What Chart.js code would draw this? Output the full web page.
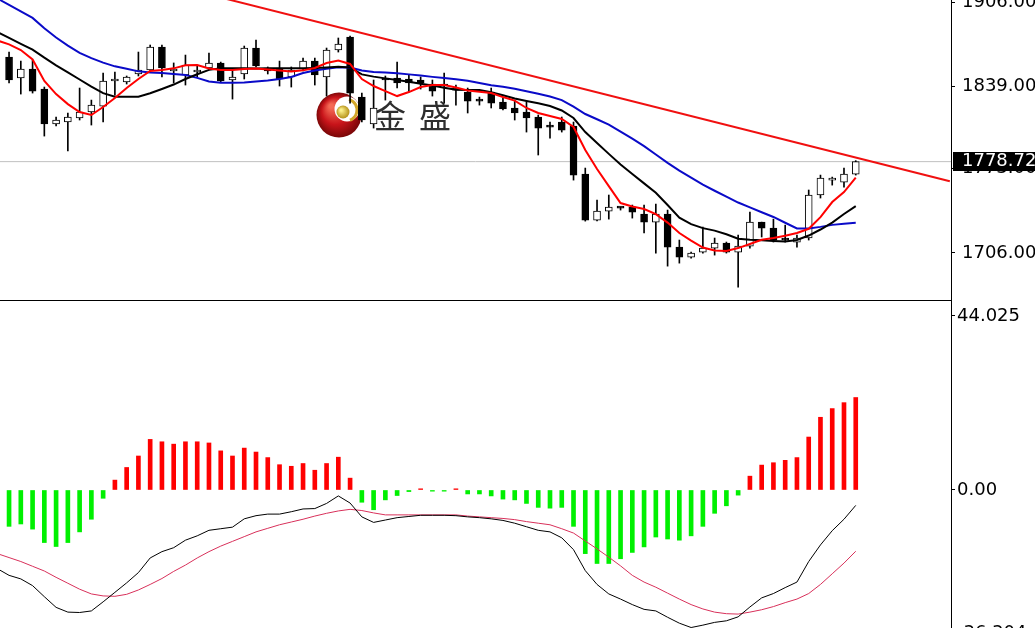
<!DOCTYPE html>
<html lang="zh">
<head>
<meta charset="UTF-8">
<title>XAUUSD H4 MACD</title>
<style>
  html, body { margin: 0; padding: 0; background: #fff; overflow: hidden; }
  #priceBox { position: absolute; left: 0; top: 0; width: 1035px; height: 301px; }
  #macdBox { position: absolute; left: 0; top: 301px; width: 1035px; height: 327px; }
</style>
</head>
<body>
<div id="priceBox"><canvas id="priceChart" width="1035" height="301"></canvas></div>
<div id="macdBox"><canvas id="macdChart" width="1035" height="327"></canvas></div>

<script src="https://cdn.jsdelivr.net/npm/chart.js@4"></script>
<script>
// candles, bar 0 .. 72
const open = [1862.1, 1845.4, 1852.6, 1836.6, 1808.7, 1810.3, 1813.5, 1818.3, 1823.0, 1843.0,
  1842.2, 1848.6, 1851.8, 1870.1, 1851.0, 1847.8, 1850.2, 1853.4, 1857.4, 1843.8,
  1848.6, 1869.3, 1853.4, 1853.4, 1846.2, 1852.6, 1858.9, 1846.2, 1867.7, 1878.1,
  1830.2, 1808.7, 1845.4, 1845.4, 1844.6, 1843.8, 1840.6, 1839.8, 1837.4, 1834.2,
  1827.8, 1834.2, 1826.2, 1821.5, 1818.3, 1814.3, 1807.1, 1810.3, 1807.1, 1768.8,
  1732.1, 1739.3, 1742.1, 1742.5, 1736.9, 1730.5, 1736.9, 1710.6, 1702.6, 1706.6,
  1709.8, 1713.8, 1706.6, 1711.4, 1730.5, 1725.7, 1716.6, 1714.6, 1717.8, 1752.1,
  1764.0, 1762.4, 1768.8];
const high = [1866.1, 1858.9, 1859.7, 1838.2, 1814.3, 1817.5, 1837.4, 1827.8, 1849.4, 1850.2,
  1847.0, 1866.1, 1871.7, 1871.7, 1857.4, 1863.7, 1855.0, 1865.3, 1858.1, 1851.8,
  1870.9, 1875.7, 1854.2, 1858.9, 1854.2, 1861.3, 1861.3, 1869.3, 1877.3, 1878.9,
  1833.4, 1843.8, 1847.0, 1858.1, 1847.8, 1846.2, 1843.8, 1849.4, 1839.8, 1837.4,
  1830.2, 1837.4, 1829.4, 1827.8, 1826.2, 1815.9, 1810.3, 1814.3, 1810.3, 1773.6,
  1748.1, 1752.1, 1742.5, 1744.1, 1744.1, 1744.9, 1740.1, 1716.2, 1706.6, 1726.5,
  1717.8, 1714.6, 1720.2, 1738.5, 1730.5, 1732.9, 1728.1, 1720.2, 1756.1, 1768.0,
  1766.4, 1773.6, 1779.5];
const low = [1841.4, 1832.6, 1833.4, 1799.1, 1807.1, 1787.2, 1811.9, 1807.9, 1810.3, 1831.8,
  1840.6, 1847.0, 1850.8, 1846.2, 1841.4, 1839.8, 1846.2, 1851.8, 1842.2, 1828.6,
  1844.6, 1854.2, 1848.6, 1839.0, 1838.2, 1851.0, 1839.8, 1831.0, 1866.1, 1825.4,
  1810.3, 1805.5, 1827.8, 1837.4, 1834.2, 1836.6, 1831.0, 1825.4, 1823.8, 1817.5,
  1823.8, 1821.5, 1819.9, 1811.9, 1802.3, 1784.0, 1797.5, 1802.3, 1764.0, 1731.3,
  1731.5, 1732.9, 1740.1, 1733.7, 1721.8, 1705.8, 1695.4, 1697.8, 1701.8, 1705.8,
  1704.2, 1705.8, 1678.7, 1709.8, 1718.6, 1714.6, 1714.6, 1710.6, 1716.2, 1749.7,
  1760.0, 1758.4, 1768.0];
const close = [1843.8, 1852.6, 1835.0, 1808.7, 1811.9, 1814.3, 1818.3, 1823.8, 1843.0, 1843.4,
  1846.2, 1851.8, 1870.1, 1853.4, 1851.8, 1855.8, 1851.0, 1857.4, 1843.0, 1846.2,
  1869.3, 1855.0, 1851.0, 1844.6, 1851.8, 1858.9, 1847.8, 1867.7, 1872.5, 1833.4,
  1811.9, 1821.5, 1843.8, 1841.4, 1841.4, 1841.4, 1835.0, 1839.0, 1835.8, 1827.0,
  1827.0, 1825.4, 1820.7, 1817.5, 1813.5, 1805.5, 1806.3, 1803.9, 1768.0, 1732.1,
  1739.3, 1742.5, 1741.7, 1738.5, 1730.5, 1736.9, 1710.6, 1702.6, 1705.8, 1709.8,
  1713.8, 1706.6, 1711.4, 1730.5, 1725.7, 1716.2, 1716.2, 1717.8, 1752.1, 1765.6,
  1764.4, 1768.8, 1778.72];

// moving averages, bar -1 .. 72
const lineStart = -1;
const maFast = [1875.3, 1872.2, 1867.7, 1860.2, 1843.0, 1832.6, 1824.6, 1818.3, 1815.9, 1822.3,
  1829.4, 1837.4, 1844.6, 1851.0, 1851.8, 1853.1, 1855.5, 1855.8, 1853.0, 1851.8,
  1851.8, 1852.6, 1853.0, 1852.2, 1851.4, 1850.6, 1851.5, 1853.4, 1857.4, 1859.3,
  1856.6, 1844.6, 1839.0, 1835.0, 1831.0, 1834.2, 1838.2, 1839.8, 1839.8, 1837.8,
  1835.4, 1834.5, 1833.4, 1830.2, 1827.4, 1821.5, 1817.5, 1815.1, 1812.7, 1806.3,
  1788.0, 1772.8, 1759.2, 1745.7, 1742.9, 1740.9, 1736.9, 1730.1, 1721.8, 1715.8,
  1710.2, 1707.8, 1707.4, 1709.8, 1713.0, 1716.4, 1717.8, 1719.6, 1721.8, 1725.2,
  1734.5, 1746.5, 1754.5, 1766.0];
const maMid = [1882.1, 1877.4, 1872.7, 1868.0, 1861.6, 1855.5, 1849.9, 1844.2, 1838.6, 1833.3,
  1830.5, 1830.5, 1830.5, 1833.2, 1836.6, 1840.2, 1844.6, 1848.4, 1851.9, 1853.1,
  1853.2, 1853.1, 1853.0, 1853.1, 1853.2, 1853.1, 1853.2, 1853.4, 1853.8, 1854.4,
  1853.8, 1848.3, 1846.5, 1845.1, 1843.8, 1842.4, 1840.9, 1839.5, 1837.7, 1836.0,
  1835.8, 1835.8, 1834.1, 1831.7, 1829.0, 1827.1, 1825.2, 1823.1, 1819.5, 1813.5,
  1802.3, 1793.5, 1784.9, 1776.4, 1768.8, 1761.4, 1753.9, 1744.1, 1734.0, 1728.9,
  1725.7, 1723.7, 1720.8, 1717.3, 1716.4, 1716.1, 1715.5, 1715.1, 1716.2, 1719.8,
  1724.6, 1730.1, 1737.0, 1743.3];
const maSlow = [1908.8, 1903.7, 1898.5, 1893.3, 1885.1, 1877.7, 1871.2, 1865.5, 1861.2, 1857.7,
  1854.7, 1852.8, 1850.7, 1849.8, 1849.4, 1848.6, 1847.8, 1845.5, 1842.6, 1841.6,
  1841.6, 1841.9, 1842.6, 1843.4, 1844.6, 1846.2, 1849.4, 1851.4, 1852.8, 1853.9,
  1853.8, 1851.4, 1850.2, 1849.8, 1849.1, 1848.3, 1847.4, 1846.3, 1845.4, 1844.4,
  1843.2, 1841.4, 1839.7, 1838.4, 1836.9, 1834.9, 1832.9, 1830.6, 1827.8, 1822.5,
  1816.7, 1812.5, 1808.2, 1802.6, 1797.0, 1791.1, 1784.4, 1777.7, 1771.6, 1766.0,
  1760.4, 1755.5, 1750.8, 1746.1, 1742.2, 1738.4, 1734.6, 1730.0, 1725.5, 1725.5,
  1726.7, 1728.3, 1729.1, 1730.0];

// drawn trend line: bar and price at both ends
const trendBars = [18, 80];
const trendPrices = [1909.6, 1763.1];
const lastPrice = 1778.72;
const priceTicks = [1906, 1839, 1773, 1706];

// MACD panel
const macdHist = [-9.2, -8.6, -9.9, -13.3, -14.3, -13.3, -10.6, -7.4, -2.1, 2.5,
  5.7, 8.6, 12.8, 12.2, 11.6, 12.2, 12.2, 11.9, 9.9, 8.6,
  10.6, 9.6, 8.2, 6.4, 6.0, 6.7, 5.0, 6.7, 8.3, 3.0,
  -3.1, -5.0, -2.5, -1.4, -0.4, 0.3, -0.3, -0.3, 0.3, -1.0,
  -1.0, -1.5, -2.3, -2.5, -3.4, -4.4, -4.6, -4.4, -9.2, -16.1,
  -18.6, -18.6, -17.4, -15.8, -14.4, -11.9, -12.4, -12.7, -11.6, -9.2,
  -5.9, -4.0, -1.3, 3.5, 6.3, 6.9, 7.5, 8.2, 13.4, 18.4,
  20.6, 22.1, 23.4];
const macdLine = [-19.9, -21.6, -22.5, -24.2, -27.0, -29.7, -30.9, -31.0, -30.6, -28.3,
  -25.9, -23.5, -20.9, -17.2, -15.6, -14.6, -12.7, -11.6, -10.2, -9.8,
  -9.4, -7.3, -6.5, -6.1, -6.1, -5.5, -4.8, -4.7, -3.4, -1.5,
  -3.3, -6.8, -8.2, -7.6, -7.0, -6.7, -6.4, -6.4, -6.4, -6.5,
  -6.8, -7.0, -7.3, -7.7, -8.4, -9.3, -10.2, -10.6, -12.1, -15.1,
  -20.4, -23.9, -26.3, -27.6, -29.0, -30.2, -30.6, -32.2, -33.7, -34.8,
  -34.2, -33.5, -33.1, -32.1, -29.6, -27.3, -26.2, -24.7, -23.3, -18.1,
  -13.9, -10.3, -7.4, -3.9];
const signalLine = [-16.1, -17.1, -18.1, -19.3, -20.5, -22.1, -23.6, -25.1, -26.3, -26.8,
  -26.9, -26.4, -25.3, -23.9, -22.4, -20.6, -19.0, -17.2, -15.6, -14.2,
  -13.0, -11.8, -10.6, -9.7, -8.8, -8.1, -7.4, -6.6, -5.9, -5.3,
  -4.9, -5.2, -5.8, -6.3, -6.3, -6.3, -6.3, -6.3, -6.3, -6.3,
  -6.6, -6.8, -7.0, -7.2, -7.5, -8.0, -8.4, -8.8, -9.8, -10.9,
  -12.9, -14.9, -17.0, -19.2, -21.6, -23.3, -24.6, -26.1, -27.6, -29.0,
  -30.1, -30.9, -31.3, -31.4, -30.9, -30.3, -29.5, -28.5, -27.6, -26.2,
  -23.9, -21.2, -18.5, -15.5];
const macdTicks = [44.025, 0, -36.304];

Chart.defaults.font.family = '"DejaVu Sans", Verdana, sans-serif';
Chart.defaults.font.size = 18;
Chart.defaults.color = '#000';

const xRange = { type: 'linear', min: -0.77, max: 80.1, display: false, offset: false };
const axisWidth = 84;

const toPoints = (arr, start) => arr.map((v, i) => ({ x: i + start, y: v }));

// right axis: fixed width, no extra room for half labels at the ends
function fixAxis(s) {
  s.width = axisWidth;
  s.paddingTop = 0;
  s.paddingBottom = 0;
  s.paddingLeft = 0;
  s.paddingRight = 0;
}

// bottom edge of the price window
const frameLine = {
  id: 'frameLine',
  afterDraw(chart) {
    const { ctx, chartArea } = chart;
    ctx.save();
    ctx.strokeStyle = '#000';
    ctx.lineWidth = 1;
    ctx.beginPath();
    ctx.moveTo(0, chartArea.bottom - 0.5);
    ctx.lineTo(chartArea.right + 1, chartArea.bottom - 0.5);
    ctx.stroke();
    ctx.restore();
  }
};

// 金盛 watermark
const logoMark = {
  id: 'logoMark',
  beforeDatasetsDraw(chart) {
    const c = chart.ctx;
    c.save();
    const ball = c.createRadialGradient(331, 106, 2, 339, 115, 23);
    ball.addColorStop(0, '#f46a55');
    ball.addColorStop(0.55, '#c8141a');
    ball.addColorStop(1, '#760606');
    c.fillStyle = ball;
    c.beginPath();
    c.arc(339, 115, 22.5, 0, Math.PI * 2);
    c.fill();
    c.fillStyle = '#fff';
    c.beginPath();
    c.arc(347, 109, 12.5, 0, Math.PI * 2);
    c.fill();
    c.strokeStyle = '#d2a62a';
    c.lineWidth = 3;
    c.beginPath();
    c.arc(346, 110, 11, -1.3, 1.2);
    c.stroke();
    const gold = c.createRadialGradient(341, 110, 1, 343, 112, 7);
    gold.addColorStop(0, '#fbf08a');
    gold.addColorStop(1, '#b08a10');
    c.fillStyle = gold;
    c.beginPath();
    c.arc(343, 112, 6.5, 0, Math.PI * 2);
    c.fill();
    c.fillStyle = '#2e2e2e';
    c.font = '32px "Noto Sans CJK SC"';
    c.textBaseline = 'alphabetic';
    c.fillText('金', 374, 128);
    c.fillText('盛', 419, 128);
    c.restore();
  }
};

// last price tag on the price axis
const priceTag = {
  id: 'priceTag',
  afterDraw(chart) {
    const c = chart.ctx;
    const y = chart.scales.y.getPixelForValue(lastPrice);
    const x = chart.chartArea.right + 2;
    c.save();
    c.fillStyle = '#000';
    c.fillRect(x, Math.round(y) - 10, 1035 - x, 19);
    c.fillStyle = '#fff';
    c.font = '18px "DejaVu Sans"';
    c.textBaseline = 'middle';
    c.fillText(lastPrice.toFixed(2), 962, y);
    c.restore();
  }
};

const wickData = open.map((o, i) => ({ x: i, y: [low[i], high[i]] }));
const bodyData = open.map((o, i) => ({ x: i, y: [o, close[i]] }));
const bodyFill = open.map((o, i) => close[i] < o ? '#000' : '#fff');

new Chart(document.getElementById('priceChart'), {
  type: 'bar',
  data: {
    datasets: [
      { type: 'line', data: trendBars.map((b, i) => ({ x: b, y: trendPrices[i] })),
        borderColor: '#f01010', borderWidth: 2, pointRadius: 0, order: 0 },
      { type: 'line', data: toPoints(maFast, lineStart), borderColor: '#ff0000', borderWidth: 2,
        pointRadius: 0, tension: 0, order: 1 },
      { type: 'line', data: toPoints(maMid, lineStart), borderColor: '#000000', borderWidth: 2,
        pointRadius: 0, tension: 0, order: 2 },
      { type: 'line', data: toPoints(maSlow, lineStart), borderColor: '#0a0ac8', borderWidth: 2,
        pointRadius: 0, tension: 0, order: 3 },
      { data: bodyData, backgroundColor: bodyFill, borderColor: '#000', borderWidth: 1,
        borderSkipped: false, barThickness: 7, minBarLength: 2, grouped: false, order: 4 },
      { data: wickData, backgroundColor: '#000', borderWidth: 0, barThickness: 1,
        grouped: false, order: 5 },
      { type: 'line', data: [{ x: -1, y: lastPrice }, { x: 81, y: lastPrice }],
        borderColor: '#c0c0c0', borderWidth: 1, pointRadius: 0, order: 6 }
    ]
  },
  options: {
    responsive: false,
    animation: false,
    events: [],
    layout: { padding: 0, autoPadding: false },
    plugins: { legend: { display: false }, tooltip: { enabled: false } },
    scales: {
      x: xRange,
      y: {
        position: 'right',
        min: 1667.6,
        max: 1907.6,
        afterFit: fixAxis,
        afterBuildTicks: s => { s.ticks = priceTicks.map(v => ({ value: v })); },
        ticks: { callback: v => v.toFixed(2), padding: 7, autoSkip: false },
        grid: { drawOnChartArea: false, tickLength: 4, color: '#000' },
        border: { display: true, color: '#000', width: 1 }
      }
    }
  },
  plugins: [logoMark, frameLine, priceTag]
});

new Chart(document.getElementById('macdChart'), {
  type: 'bar',
  data: {
    datasets: [
      { type: 'line', data: toPoints(macdLine, lineStart), borderColor: '#000', borderWidth: 1,
        pointRadius: 0, tension: 0, order: 0 },
      { type: 'line', data: toPoints(signalLine, lineStart), borderColor: '#d8305a', borderWidth: 1,
        pointRadius: 0, tension: 0, order: 1 },
      { data: toPoints(macdHist, 0), backgroundColor: macdHist.map(v => v < 0 ? '#00f000' : '#ff0000'),
        borderWidth: 0, barThickness: 4, grouped: false, order: 2 }
    ]
  },
  options: {
    responsive: false,
    animation: false,
    events: [],
    layout: { padding: 0, autoPadding: false },
    plugins: { legend: { display: false }, tooltip: { enabled: false } },
    scales: {
      x: xRange,
      y: {
        position: 'right',
        min: -34.92,
        max: 47.82,
        afterFit: fixAxis,
        afterBuildTicks: s => { s.ticks = macdTicks.map(v => ({ value: v })); },
        ticks: { callback: v => v === 0 ? '0.00' : String(v), padding: 2, autoSkip: false },
        grid: { drawOnChartArea: false, tickLength: 4, color: '#000' },
        border: { display: true, color: '#000', width: 1 }
      }
    }
  }
});
</script>
</body>
</html>
